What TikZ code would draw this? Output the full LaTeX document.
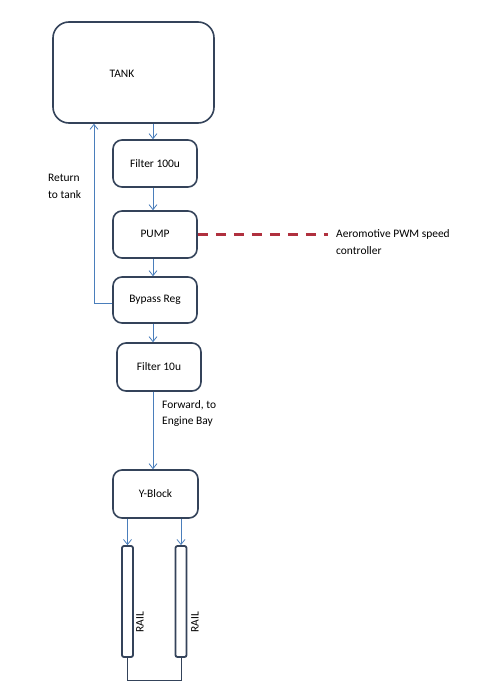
\documentclass[tikz,border=0pt]{standalone}
\usepackage{fontspec}
\setmainfont{Carlito}
\usetikzlibrary{arrows.meta}
\definecolor{boxc}{HTML}{34435A}
\definecolor{arrc}{HTML}{4A7EBB}
\definecolor{dashc}{HTML}{B0303E}
\tikzset{
  blk/.style={draw=boxc, line width=1.6bp, rounded corners=9bp, inner sep=0pt,
    font=\fontsize{11.5}{13}\selectfont},
  railbox/.style={draw=boxc, line width=1.8bp, rounded corners=2bp, inner sep=0pt,
    minimum width=11bp, minimum height=111bp},
  arr/.style={draw=arrc, line width=0.8bp, -{Straight Barb[length=5bp,width=8bp]}},
  lbl/.style={inner sep=0pt, align=left, anchor=west, font=\fontsize{11.5}{17}\selectfont},
  txt/.style={inner sep=0pt, font=\fontsize{11.5}{13}\selectfont},
}
\begin{document}
\begin{tikzpicture}[x=1bp,y=-1bp]
\useasboundingbox[fill=white] (0,0) rectangle (483,700);
% boxes
\node[blk, rounded corners=16bp, minimum width=161bp, minimum height=101bp] (tank) at (133.5,72.5) {};
\node[txt] (tanklbl) at (122,74) {TANK};
\node[blk, minimum width=84bp, minimum height=47bp] (f100) at (155,163.5) {Filter 100u};
\node[blk, minimum width=84bp, minimum height=47bp] (pump) at (155,234.5) {\raisebox{2bp}{PUMP}};
\node[blk, minimum width=84bp, minimum height=46bp] (bypass) at (155,300) {Bypass Reg};
\node[blk, minimum width=84bp, minimum height=48bp] (f10) at (159,367) {Filter 10u};
\node[blk, minimum width=85bp, minimum height=48bp] (yb) at (155.5,494) {Y-Block};
\node[railbox] (rail1) at (127.5,601.5) {};
\node[railbox] (rail2) at (181,601.5) {};
\node[txt, rotate=90] (r1lbl) at (140,622) {RAIL};
\node[txt, rotate=90] (r2lbl) at (195,622) {RAIL};
% labels
\node[lbl] (retlbl) at (48,186.5) {Return\\to tank};
\node[lbl] (ctrl) at (336,242) {Aeromotive PWM speed\\controller};
\node[lbl] (fwd) at (162,413.5) {Forward, to\\Engine Bay};
% coordinates
\coordinate (ret) at (94,303);
\coordinate (ax) at (153,0);
\coordinate (bl) at (127,680);
% connectors
\draw[arr] (ax |- tank.south) -- (ax |- f100.north);
\draw[arr] (ax |- f100.south) -- (ax |- pump.north);
\draw[arr] (ax |- pump.south) -- (ax |- bypass.north);
\draw[arr] (ax |- bypass.south) -- (ax |- f10.north);
\draw[arr] (ax |- f10.south) -- (ax |- yb.north);
\draw[arr] (bypass.west |- ret) -- (ret) -- (ret |- tank.south);
\draw[arr] (yb.south -| rail1) -- (rail1.north);
\draw[arr] (yb.south -| rail2) -- (rail2.north);
\draw[draw=boxc, line width=0.8bp] (rail1.south) -- (rail1.south |- bl) -| (rail2.south);
\draw[draw=dashc, line width=2.8bp, dash pattern=on 10bp off 8bp] (pump.east) -- (pump.east -| 328,0);
\end{tikzpicture}
\end{document}
